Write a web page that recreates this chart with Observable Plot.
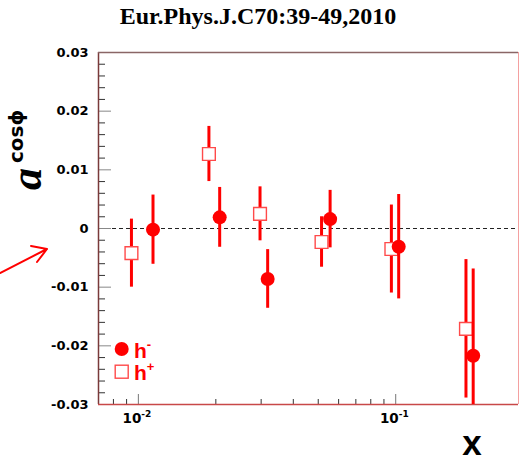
<!DOCTYPE html>
<html><head><meta charset="utf-8">
<script src="https://cdn.jsdelivr.net/npm/d3@7"></script>
<script src="https://cdn.jsdelivr.net/npm/@observablehq/plot@0.6"></script>
<style>body{margin:0;background:#fff} #chart{width:519px;height:462px}</style>
</head><body><div id="chart"></div>
<script>
// h- (filled circles)
const xHminus = [0.0114, 0.0207, 0.0318, 0.0556, 0.1027, 0.200];
const aHminus = [-0.0002, 0.0019, -0.0086, 0.0016, -0.0031, -0.0217];
const eHminus = [0.0059, 0.0051, 0.0050, 0.0049, 0.0089, 0.0148];
// h+ (open squares)
const xHplus = [0.0094, 0.0188, 0.0297, 0.0515, 0.0962, 0.1875];
const aHplus = [-0.0042, 0.0127, 0.0025, -0.0023, -0.0035, -0.0171];
const eHplus = [0.0058, 0.0047, 0.0046, 0.0043, 0.0075, 0.0118];
// ticks
const yMajorTicks = [-0.03, -0.02, -0.01, 0, 0.01, 0.02, 0.03];
const yMinorTicks = [-0.028, -0.026, -0.024, -0.022, -0.018, -0.016, -0.014, -0.012,
  -0.008, -0.006, -0.004, -0.002, 0.002, 0.004, 0.006, 0.008,
  0.012, 0.014, 0.016, 0.018, 0.022, 0.024, 0.026, 0.028];
const xMajorTicks = [0.01, 0.1];
const xMajorExponents = ["-2", "-1"];
const xMinorTicks = [0.008, 0.009, 0.02, 0.03, 0.04, 0.05, 0.06, 0.07, 0.08, 0.09, 0.2];
const titleText = "Eur.Phys.J.C70:39-49,2010";

const hMinus = xHminus.map((x, i) => ({x, a: aHminus[i], e: eHminus[i]}));
const hPlus = xHplus.map((x, i) => ({x, a: aHplus[i], e: eHplus[i]}));
const xLabels = xMajorTicks.map((x, i) => ({x, exp: xMajorExponents[i]}));

const RED = "#ff0000";
const FONT = "DejaVu Sans";

const plot = Plot.plot({
  width: 519, height: 462,
  marginTop: 52, marginBottom: 58, marginLeft: 98, marginRight: 1,
  style: {background: "#fff", overflow: "visible"},
  x: {type: "log", domain: [0.007, 0.3], axis: null},
  y: {domain: [-0.03, 0.03], axis: null},
  marks: [
    Plot.ruleY([0], {stroke: "#222", strokeWidth: 1, strokeDasharray: "4,3"}),
    // y ticks (inward)
    Plot.axisY(yMinorTicks, {anchor: "left", tickSize: -7, stroke: "#333", fill: "none", label: null}),
    Plot.axisY(yMajorTicks, {anchor: "left", tickSize: -13, stroke: "#888", fill: "none", label: null}),
    Plot.axisY(yMajorTicks, {anchor: "left", tickSize: 0, tickPadding: 10, label: null,
      fontSize: 13, fontWeight: "bold", fontFamily: FONT, fill: "#000",
      tickFormat: d => d === 0 ? "0" : d.toFixed(2)}),
    // x ticks (inward)
    Plot.axisX(xMinorTicks, {anchor: "bottom", tickSize: -5, stroke: "#333", fill: "none", label: null}),
    Plot.axisX(xMajorTicks, {anchor: "bottom", tickSize: -10, stroke: "#777", fill: "none", label: null}),
    Plot.text(xLabels, {x: "x", frameAnchor: "bottom", text: () => "10", textAnchor: "end",
      dx: 3, dy: 18, fontSize: 13.5, fontWeight: "bold", fontFamily: FONT, fill: "#000"}),
    Plot.text(xLabels, {x: "x", frameAnchor: "bottom", text: "exp", textAnchor: "start",
      dx: 3, dy: 12, fontSize: 9, fontWeight: "bold", fontFamily: FONT, fill: "#000"}),
    // frame
    Plot.ruleX([0.007], {stroke: "#7a3a3a", strokeWidth: 1.5}),
    Plot.ruleX([0.3], {stroke: "#f4a0a0", strokeWidth: 1}),
    Plot.ruleY([0.03], {stroke: "#8a6666", strokeWidth: 1.5}),
    Plot.ruleY([-0.03], {stroke: "#c84848", strokeWidth: 1.5}),
    // h+ data
    Plot.ruleX(hPlus, {x: "x", y1: d => d.a - d.e, y2: d => d.a + d.e, stroke: RED, strokeWidth: 3, clip: true}),
    Plot.dot(hPlus, {x: "x", y: "a", symbol: "square", r: 7.2, fill: "#fff", stroke: "#ff4a4a", strokeWidth: 1.4}),
    // h- data
    Plot.ruleX(hMinus, {x: "x", y1: d => d.a - d.e, y2: d => d.a + d.e, stroke: RED, strokeWidth: 3, clip: true}),
    Plot.dot(hMinus, {x: "x", y: "a", symbol: "circle", r: 7, fill: RED, stroke: "none"})
  ]
});

document.getElementById("chart").appendChild(plot);

const svg = d3.select(plot);
// title
svg.append("text").attr("x", 258).attr("y", 24).attr("text-anchor", "middle")
  .attr("font-family", "Liberation Serif, Times New Roman, serif").attr("font-weight", "bold")
  .attr("font-size", 24).attr("fill", "#000").text(titleText);
// y label
const yl = svg.append("text").attr("transform", "translate(41,190) rotate(-90)")
  .attr("text-anchor", "start").attr("fill", "#000");
yl.append("tspan").attr("font-family", "Liberation Serif, serif").attr("font-style", "italic")
  .attr("font-weight", "bold").attr("font-size", 44).text("a");
yl.append("tspan").attr("font-family", FONT).attr("font-weight", "bold").attr("font-size", 20)
  .attr("dx", 5).attr("dy", -18).text("cosϕ");
// x label
svg.append("text").attr("x", 472).attr("y", 455).attr("text-anchor", "middle")
  .attr("font-family", "Liberation Sans, Arial, sans-serif").attr("font-weight", "bold")
  .attr("font-size", 35).attr("fill", "#000").text("x");
// legend
const lg = svg.append("g").attr("text-anchor", "start");
lg.append("circle").attr("cx", 121.7).attr("cy", 349).attr("r", 7).attr("fill", RED);
lg.append("rect").attr("x", 115.2).attr("y", 365.2).attr("width", 13).attr("height", 13)
  .attr("fill", "#fff").attr("stroke", "#ff4a4a").attr("stroke-width", 1.4);
const t1 = lg.append("text").attr("x", 134).attr("y", 358).attr("fill", RED)
  .attr("font-family", "Liberation Sans, Arial, sans-serif").attr("font-weight", "bold").attr("font-size", 21);
t1.append("tspan").text("h");
t1.append("tspan").attr("font-size", 13).attr("dy", -9).text("-");
const t2 = lg.append("text").attr("x", 134).attr("y", 380).attr("fill", RED)
  .attr("font-family", "Liberation Sans, Arial, sans-serif").attr("font-weight", "bold").attr("font-size", 21);
t2.append("tspan").text("h");
t2.append("tspan").attr("font-size", 13).attr("dy", -9).text("+");
// annotation arrow
svg.append("path").attr("d", "M0,273 L47,249 M31,246 L47,249 L37,262")
  .attr("fill", "none").attr("stroke", RED).attr("stroke-width", 2)
  .attr("stroke-linecap", "round").attr("stroke-linejoin", "round");
</script>
</body></html>
